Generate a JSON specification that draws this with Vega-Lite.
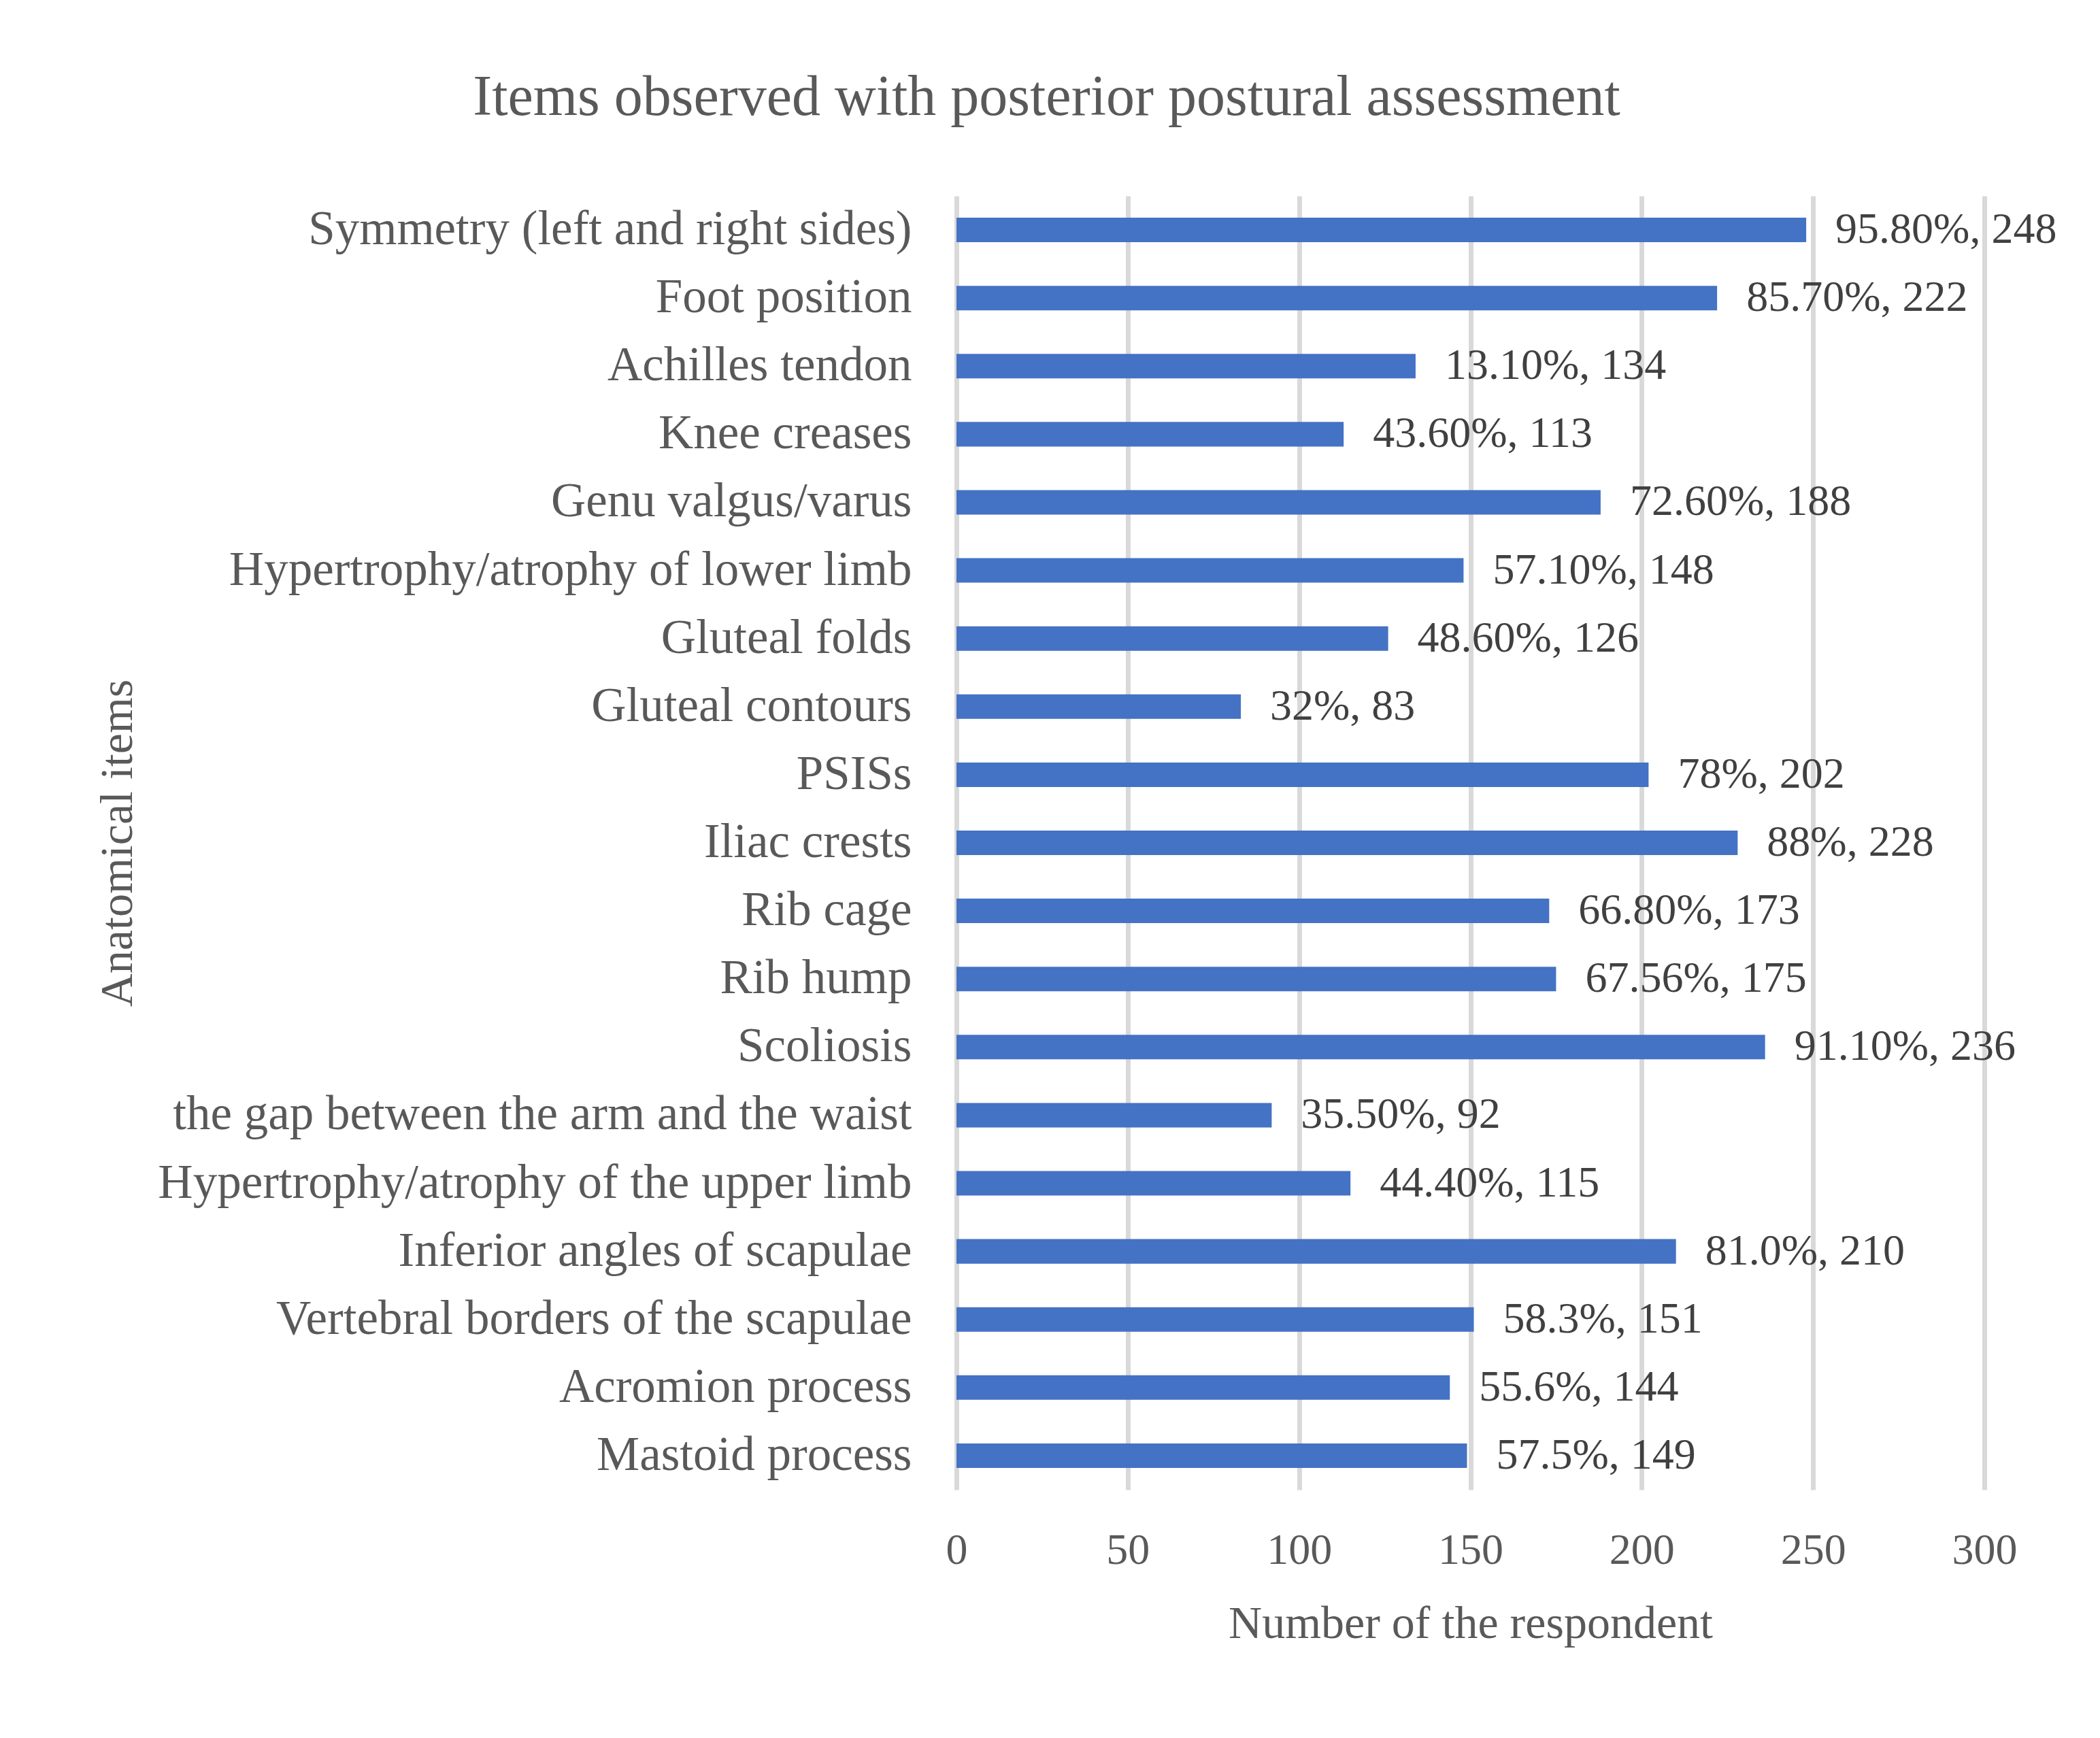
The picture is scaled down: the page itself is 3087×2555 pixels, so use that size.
{
  "$schema": "https://vega.github.io/schema/vega-lite/v6.json",
  "autosize": {"type": "none"},
  "padding": {"left": 1406, "top": 288, "right": 170, "bottom": 365},
  "width": 1511,
  "height": 1902,
  "background": "white",
  "title": {
    "text": "Items observed with posterior postural assessment",
    "anchor": "middle",
    "frame": "group",
    "dx": -623,
    "offset": 35,
    "baseline": "alphabetic",
    "font": "Liberation Serif",
    "fontSize": 84,
    "fontWeight": "normal",
    "color": "#595959"
  },
  "data": {
    "values": [
      {"item": "Symmetry (left and right sides)", "count": 248, "label": "95.80%, 248"},
      {"item": "Foot position", "count": 222, "label": "85.70%, 222"},
      {"item": "Achilles tendon\u00a0", "count": 134, "label": "13.10%, 134"},
      {"item": "Knee creases\u00a0", "count": 113, "label": "43.60%, 113"},
      {"item": "Genu valgus/varus\u00a0", "count": 188, "label": "72.60%, 188"},
      {"item": "Hypertrophy/atrophy of lower limb", "count": 148, "label": "57.10%, 148"},
      {"item": "Gluteal folds", "count": 126, "label": "48.60%, 126"},
      {"item": "Gluteal contours\u00a0", "count": 83, "label": "32%, 83"},
      {"item": "PSISs", "count": 202, "label": "78%, 202"},
      {"item": "Iliac crests", "count": 228, "label": "88%, 228"},
      {"item": "Rib cage\u00a0", "count": 173, "label": "66.80%, 173"},
      {"item": "Rib hump\u00a0", "count": 175, "label": "67.56%, 175"},
      {"item": "Scoliosis", "count": 236, "label": "91.10%, 236"},
      {"item": "the gap between the arm and the waist", "count": 92, "label": "35.50%, 92"},
      {"item": "Hypertrophy/atrophy of the upper limb", "count": 115, "label": "44.40%, 115"},
      {"item": "Inferior angles of scapulae", "count": 210, "label": "81.0%, 210"},
      {"item": "Vertebral borders of the scapulae", "count": 151, "label": "58.3%, 151"},
      {"item": "Acromion process", "count": 144, "label": "55.6%, 144"},
      {"item": "Mastoid process\u00a0", "count": 149, "label": "57.5%, 149"}
    ]
  },
  "encoding": {
    "y": {
      "field": "item",
      "type": "nominal",
      "sort": null,
      "scale": {"paddingInner": 0.64, "paddingOuter": 0.32},
      "axis": {
        "title": "Anatomical items",
        "titleFont": "Liberation Serif",
        "titleFontSize": 68,
        "titleFontWeight": "normal",
        "titleColor": "#595959",
        "titleX": -1233,
        "titleY": 951,
        "titleAngle": 270,
        "titleAlign": "center",
        "titleBaseline": "middle",
        "labelFont": "Liberation Serif",
        "labelFontSize": 71,
        "labelColor": "#595959",
        "labelPadding": 66,
        "labelLimit": 2000,
        "ticks": false,
        "domain": false,
        "grid": false
      }
    },
    "x": {
      "field": "count",
      "type": "quantitative",
      "scale": {"domain": [0, 300], "nice": false},
      "axis": {
        "values": [0, 50, 100, 150, 200, 250, 300],
        "title": "Number of the respondent",
        "titleFont": "Liberation Serif",
        "titleFontSize": 68,
        "titleFontWeight": "normal",
        "titleColor": "#595959",
        "titleY": 217,
        "titleBaseline": "alphabetic",
        "labelFont": "Liberation Serif",
        "labelFontSize": 64,
        "labelColor": "#595959",
        "labelPadding": 57,
        "labelFlush": false,
        "ticks": false,
        "domain": false,
        "grid": true,
        "gridColor": "#d9d9d9",
        "gridWidth": 7
      }
    }
  },
  "layer": [
    {"mark": {"type": "bar", "color": "#4472C4"}},
    {
      "mark": {
        "type": "text",
        "align": "left",
        "baseline": "middle",
        "dx": 43,
        "font": "Liberation Serif",
        "fontSize": 64,
        "color": "#404040"
      },
      "encoding": {"text": {"field": "label"}}
    }
  ],
  "config": {"view": {"stroke": null}}
}
